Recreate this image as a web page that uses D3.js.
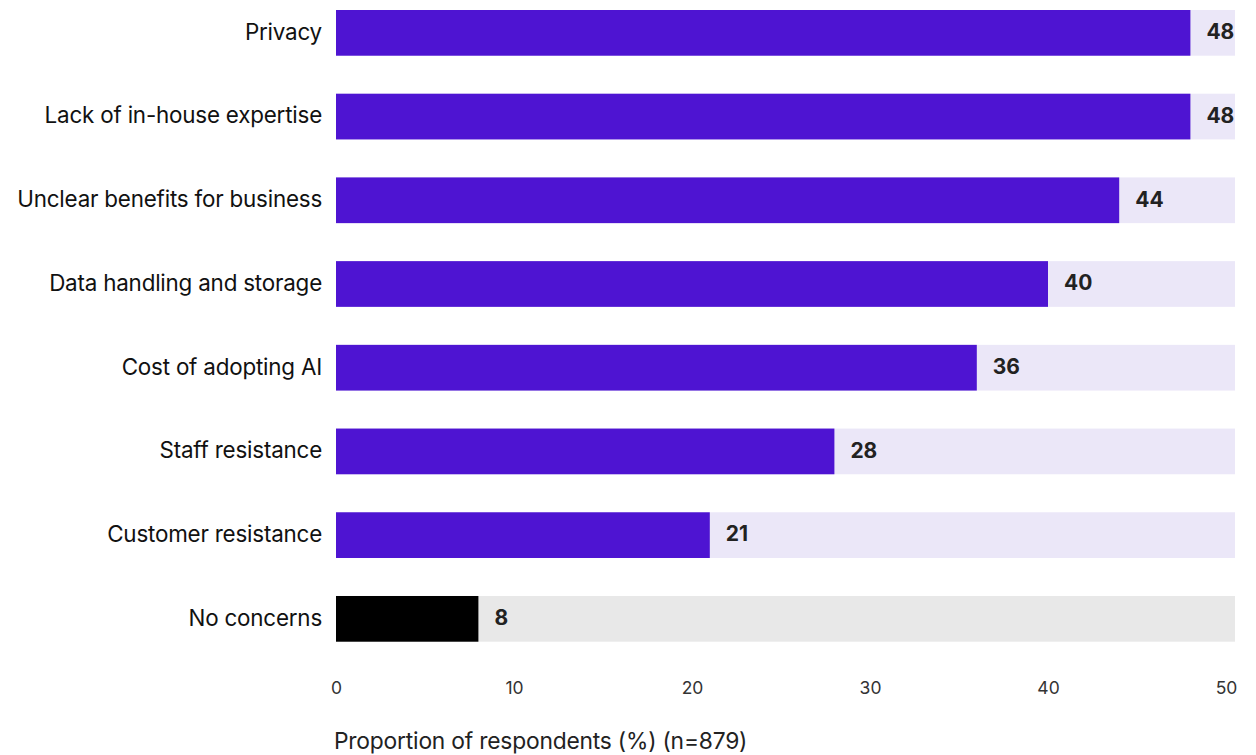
<!DOCTYPE html>
<html>
<head>
<meta charset="utf-8">
<script src="https://cdn.jsdelivr.net/npm/d3@7"></script>
<style>
  html, body { margin: 0; padding: 0; background: #fff; }
  svg { display: block; font-family: Inter, "Noto Sans", sans-serif; }
</style>
</head>
<body>
<svg id="chart" width="1256" height="755"></svg>
<script>
// Concerns about adopting AI, share of respondents (%)
const categories = [
  "Privacy",
  "Lack of in-house expertise",
  "Unclear benefits for business",
  "Data handling and storage",
  "Cost of adopting AI",
  "Staff resistance",
  "Customer resistance",
  "No concerns"
];
const values = [48, 48, 44, 40, 36, 28, 21, 8];
const tickValues = [0, 10, 20, 30, 40, 50];
const axisTitle = "Proportion of respondents (%) (n=879)";

const svg = d3.select("#chart");

const plotLeft = 336, plotRight = 1235;
const x = d3.scaleLinear().domain([0, 50]).range([plotLeft, 1226]);
const y = d3.scaleBand()
  .domain(categories)
  .range([10, 641.7])
  .paddingInner(0.454)
  .paddingOuter(0);

const isNone = d => d === "No concerns";
const barColor = d => isNone(d) ? "#000000" : "#4e14d2";
const trackColor = d => isNone(d) ? "#e8e8e8" : "#ebe7f8";

const rows = svg.append("g")
  .selectAll("g")
  .data(categories.map((c, i) => ({ c, v: values[i] })))
  .join("g");

// full-width track behind each bar
rows.append("rect")
  .attr("x", plotLeft)
  .attr("y", d => y(d.c))
  .attr("width", plotRight - plotLeft)
  .attr("height", y.bandwidth())
  .attr("fill", d => trackColor(d.c));

// value bar
rows.append("rect")
  .attr("x", x(0))
  .attr("y", d => y(d.c))
  .attr("width", d => x(d.v) - x(0))
  .attr("height", y.bandwidth())
  .attr("fill", d => barColor(d.c));

// category labels
rows.append("text")
  .attr("x", 322)
  .attr("y", d => y(d.c) + y.bandwidth() / 2 - 1)
  .attr("dy", "0.35em")
  .attr("text-anchor", "end")
  .attr("font-size", 22.4)
  .attr("letter-spacing", -0.2)
  .attr("fill", "#111")
  .text(d => d.c);

// value labels
rows.append("text")
  .attr("x", d => Math.min(x(d.v) + 16, plotRight - 28))
  .attr("y", d => y(d.c) + y.bandwidth() / 2 - 1)
  .attr("dy", "0.35em")
  .attr("font-size", 21)
  .attr("font-weight", 700)
  .attr("fill", "#222")
  .text(d => d.v);

// x axis: tick labels only
const axis = d3.axisBottom(x).tickValues(tickValues).tickSize(0).tickPadding(0);
const gx = svg.append("g")
  .attr("transform", "translate(0,680)")
  .call(axis);
gx.select(".domain").remove();
gx.selectAll("text")
  .attr("font-family", "Inter, 'Noto Sans', sans-serif")
  .attr("font-size", 17.5)
  .attr("fill", "#333")
  .attr("dy", "0.8em");

svg.append("text")
  .attr("x", 334)
  .attr("y", 749)
  .attr("font-size", 22.8)
  .attr("letter-spacing", -0.2)
  .attr("fill", "#222")
  .text(axisTitle);
</script>
</body>
</html>
